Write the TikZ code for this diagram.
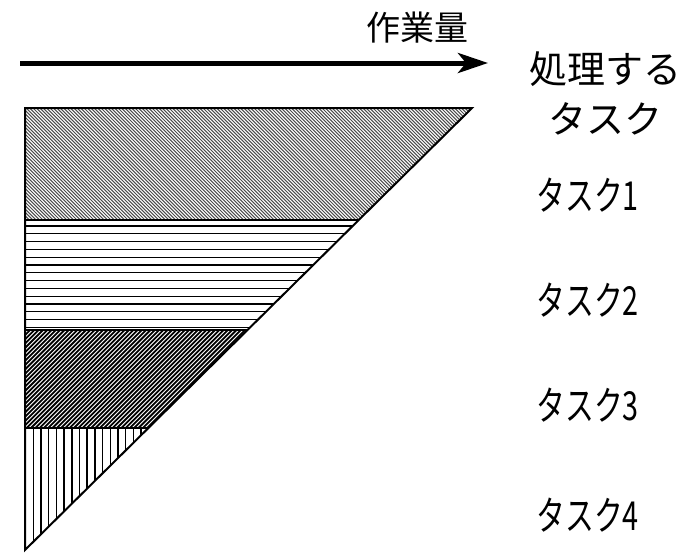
\documentclass[tikz,border=0pt]{standalone}
\usepackage{fontspec}
\setmainfont{Noto Sans CJK JP}
\usetikzlibrary{arrows.meta,calc}

\begin{document}
\begin{tikzpicture}[x=1pt,y=-1pt]
    \useasboundingbox (0,0) rectangle (695,557);

    % Corners of the triangle
    \coordinate (top) at (25,108);
    \coordinate (right) at (472,108);
    \coordinate (bottom) at (25,550);

    % Band borders (fraction of the height)
    \foreach \n/\t in {a/0.2534, b/0.5023, c/0.7240} {
        \coordinate (\n L) at ($(top)!\t!(bottom)$);
        \coordinate (\n R) at ($(right)!\t!(bottom)$);
    }

    % Task 1: fine diagonal lines
    \begin{scope}
        \clip (top) -- (right) -- (aR) -- (aL) -- cycle;
        \foreach \x in {-120,-116.6,...,480}
            \draw [line width=1pt, black!70] (\x,108) -- ++(115,115);
    \end{scope}

    % Task 2: horizontal lines
    \begin{scope}
        \clip (aL) -- (aR) -- (bR) -- (bL) -- cycle;
        \foreach \y in {226,233.8,...,330}
            \draw [line width=1.3pt] (25,\y) -- (400,\y);
    \end{scope}

    % Task 3: dense lines the other way
    \begin{scope}
        \clip (bL) -- (bR) -- (cR) -- (cL) -- cycle;
        \foreach \x in {-100,-95.7,...,360}
            \draw [line width=1.8pt] (\x,430) -- ++(102,-102);
    \end{scope}

    % Task 4: vertical lines
    \begin{scope}
        \clip (cL) -- (cR) -- (bottom) -- cycle;
        \foreach \x in {33.3,41,...,150}
            \draw [line width=1.5pt] (\x,426) -- (\x,552);
    \end{scope}

    % Band borders and outline
    \foreach \n in {a,b,c}
        \draw [line width=2pt] (\n L) -- (\n R);
    \draw [line width=2pt, line join=miter] (top) -- (right) -- (bottom) -- cycle;

    % Work axis
    \coordinate (axisL) at (20,63);
    \coordinate (axisR) at (488,63);
    \draw [line width=5pt, -{Stealth[length=30pt,width=20pt,inset=8pt]}] (axisL) -- (axisR);
    \node [font=\fontsize{34}{40}\selectfont] (work) at (417,28) {作業量};
    \node [font=\fontsize{38}{50}\selectfont, align=center] (proc) at (605,93) {処理する\\タスク};

    % Task labels
    \foreach \i/\y in {1/195, 2/300, 3/405, 4/515}
        \node [anchor=west, font=\fontsize{40}{48}\selectfont] (task\i) at (533,\y) {\scalebox{0.72}[1]{タスク\i}};
\end{tikzpicture}
\end{document}
